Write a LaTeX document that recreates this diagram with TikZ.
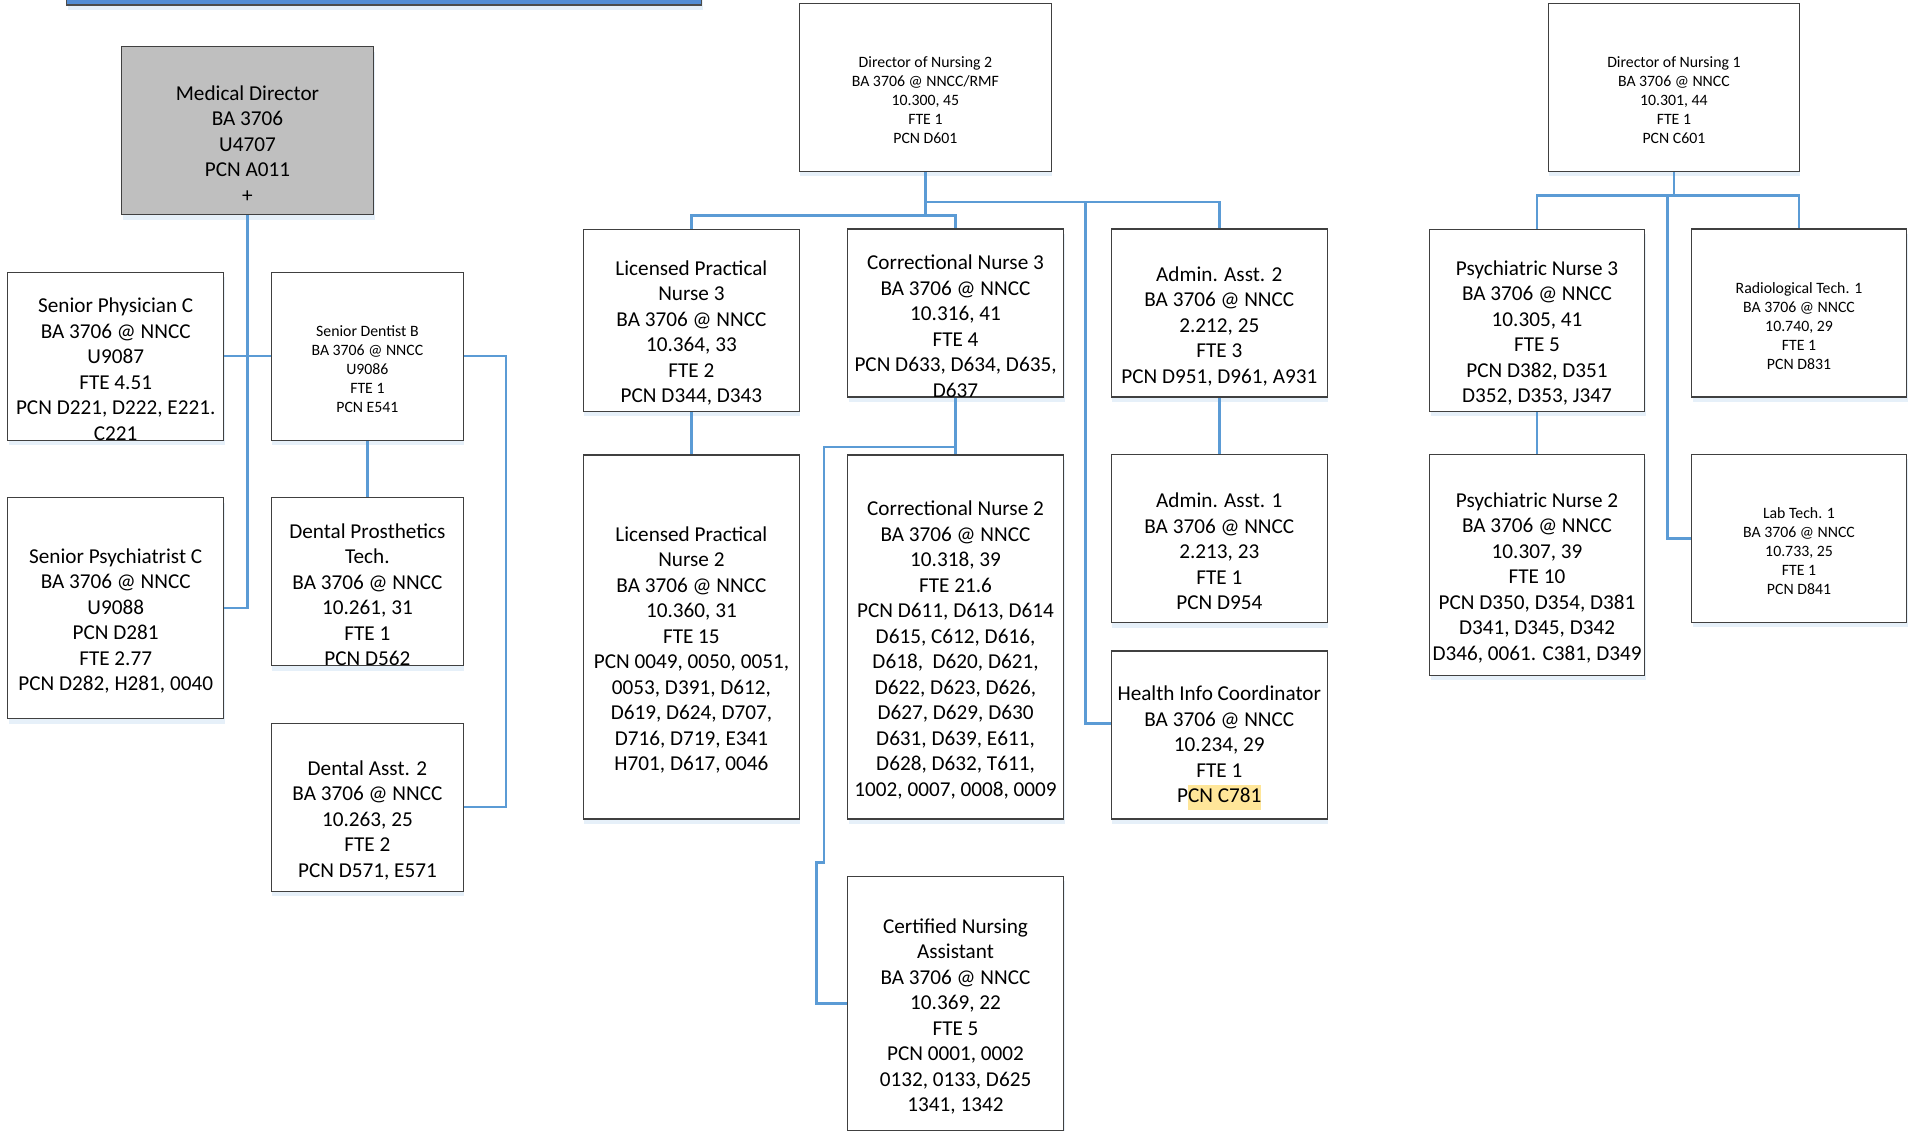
\documentclass[tikz,border=0pt]{standalone}
\usepackage{fontspec}
\setmainfont{Carlito}
\usetikzlibrary{positioning,shadows}

\definecolor{linkblue}{RGB}{91,155,213}
\definecolor{bannerblue}{RGB}{83,141,213}
\definecolor{mdgray}{RGB}{191,191,191}
\definecolor{marker}{RGB}{255,230,153}
\newcommand{\marked}[1]{{\setlength{\fboxsep}{0pt}\colorbox{marker}{\strut#1}}}

\tikzset{
  post/.style={draw=black!75, line width=1.2pt, fill=white, inner sep=0pt,
    minimum width=216pt, minimum height=168pt,
    drop shadow={shadow xshift=1pt, shadow yshift=-5pt, opacity=.3, fill=linkblue!50}},
  big/.style={align=center, yshift=-13pt, font={\fontsize{21.2}{25.5}\selectfont}},
  small/.style={align=center, yshift=-13pt, font={\fontsize{15.8}{19}\selectfont}},
  link/.style={draw=linkblue, line width=2.5pt}
}

\begin{document}
\begin{tikzpicture}[x=1pt, y=-1pt]
    \useasboundingbox (0,0) rectangle (1919,1131);

    % header bar, cut off by the page
    \node[post, fill=bannerblue, draw=black!70, minimum width=635pt, minimum height=25pt] (banner) at (384.3,-7.5) {};

    % medical
    \node[post, fill=mdgray, minimum width=252pt, label={[big]center:{Medical Director\\BA 3706\\U4707\\PCN A011\\+}}] (md) at (247.5,130.8) {};
    \node[post, label={[big]center:{Senior Physician C\\BA 3706 @ NNCC\\U9087\\FTE 4.51\\PCN D221, D222, E221.\\C221}}] (physician) at (115.7,356.2) {};
    \node[post, minimum width=192pt, label={[small]center:{Senior Dentist B\\BA 3706 @ NNCC\\U9086\\FTE 1\\PCN E541}}] (dentist) at (367.4,356.2) {};
    \node[post, minimum height=221pt, label={[big]center:{Senior Psychiatrist C\\BA 3706 @ NNCC\\U9088\\PCN D281\\FTE 2.77\\PCN D282, H281, 0040}}] (psychiatrist) at (115.7,608) {};
    \node[post, minimum width=192pt, label={[big]center:{Dental Prosthetics\\Tech.\\BA 3706 @ NNCC\\10.261, 31\\FTE 1\\PCN D562}}] (prosthetics) at (367.4,581.5) {};
    \node[post, minimum width=192pt, label={[big]center:{Dental Asst. 2\\BA 3706 @ NNCC\\10.263, 25\\FTE 2\\PCN D571, E571}}] (dentasst) at (367.4,807.2) {};

    % nursing 2
    \node[post, minimum width=252pt, label={[small]center:{Director of Nursing 2\\BA 3706 @ NNCC/RMF\\10.300, 45\\FTE 1\\PCN D601}}] (don2) at (925.4,87.5) {};
    \node[post, minimum height=182pt, label={[big]center:{Licensed Practical\\Nurse 3\\BA 3706 @ NNCC\\10.364, 33\\FTE 2\\PCN D344, D343}}] (lpn3) at (691.4,320.2) {};
    \node[post, label={[big]center:{Correctional Nurse 3\\BA 3706 @ NNCC\\10.316, 41\\FTE 4\\PCN D633, D634, D635,\\D637}}] (cn3) at (955.5,313) {};
    \node[post, label={[big]center:{Admin. Asst. 2\\BA 3706 @ NNCC\\2.212, 25\\FTE 3\\PCN D951, D961, A931}}] (aa2) at (1219.3,313) {};
    \node[post, minimum height=364pt, label={[big]center:{Licensed Practical\\Nurse 2\\BA 3706 @ NNCC\\10.360, 31\\FTE 15\\PCN 0049, 0050, 0051,\\0053, D391, D612,\\D619, D624, D707,\\D716, D719, E341\\H701, D617, 0046}}] (lpn2) at (691.4,637) {};
    \node[post, minimum height=364pt, label={[big]center:{Correctional Nurse 2\\BA 3706 @ NNCC\\10.318, 39\\FTE 21.6\\PCN D611, D613, D614\\D615, C612, D616,\\D618,~ D620, D621,\\D622, D623, D626,\\D627, D629, D630\\D631, D639, E611,\\D628, D632, T611,\\1002, 0007, 0008, 0009}}] (cn2) at (955.5,637) {};
    \node[post, label={[big]center:{Admin. Asst. 1\\BA 3706 @ NNCC\\2.213, 23\\FTE 1\\PCN D954}}] (aa1) at (1219.3,538.7) {};
    \node[post, label={[big]center:{Health Info Coordinator\\BA 3706 @ NNCC\\10.234, 29\\FTE 1\\P\marked{CN C781}}}] (hic) at (1219.3,735) {};
    \node[post, minimum height=254pt, label={[big]center:{Certified Nursing\\Assistant\\BA 3706 @ NNCC\\10.369, 22\\FTE 5\\PCN 0001, 0002\\0132, 0133, D625\\1341, 1342}}] (cna) at (955.5,1003.4) {};

    % nursing 1
    \node[post, minimum width=251pt, label={[small]center:{Director of Nursing 1\\BA 3706 @ NNCC\\10.301, 44\\FTE 1\\PCN C601}}] (don1) at (1673.9,87.5) {};
    \node[post, minimum width=215pt, minimum height=182pt, label={[big]center:{Psychiatric Nurse 3\\BA 3706 @ NNCC\\10.305, 41\\FTE 5\\PCN D382, D351\\D352, D353, J347}}] (pn3) at (1537,320.2) {};
    \node[post, minimum width=215pt, label={[small]center:{Radiological Tech. 1\\BA 3706 @ NNCC\\10.740, 29\\FTE 1\\PCN D831}}] (rt1) at (1799,313) {};
    \node[post, minimum width=215pt, minimum height=221pt, label={[big]center:{Psychiatric Nurse 2\\BA 3706 @ NNCC\\10.307, 39\\FTE 10\\PCN D350, D354, D381\\D341, D345, D342\\D346, 0061. C381, D349}}] (pn2) at (1537,564.7) {};
    \node[post, minimum width=215pt, label={[small]center:{Lab Tech. 1\\BA 3706 @ NNCC\\10.733, 25\\FTE 1\\PCN D841}}] (lt1) at (1799,538.3) {};

    % connectors
    \draw[link] (md.south) |- (psychiatrist.east);
    \draw[link] (physician.east) -- (dentist.west);
    \draw[link] (dentist.east) -- ++(42,0) |- (dentasst.east);
    \draw[link] (dentist.south) -- (prosthetics.north);

    \draw[link] (don2.south) -- ++(0,30) coordinate (fork2) -- ++(0,13.3) coordinate (split2);
    \draw[link] (lpn3.north) |- (split2) -| (cn3.north);
    \draw[link] (fork2) -| (aa2.north);
    \draw[link] ([yshift=11.7pt]hic.west) -- ++(-25,0) |- (fork2);
    \draw[link] (cn3.south) -- ++(0,49.3) coordinate (fork3) -- (cn2.north);
    \draw[link] (cna.west) -- ++(-30.4,0) -- ++(0,-141.1) -- ++(7.6,0) |- (fork3);
    \draw[link] (lpn3.south) -- (lpn2.north);
    \draw[link] (aa2.south) -- (aa1.north);

    \draw[link] (don1.south) -- ++(0,23.3) coordinate (fork1);
    \draw[link] (pn3.north) |- (fork1) -| (rt1.north);
    \draw[link] (lt1.west) -- ++(-23.6,0) |- (fork1);
    \draw[link] (pn3.south) -- (pn2.north);
\end{tikzpicture}
\end{document}
